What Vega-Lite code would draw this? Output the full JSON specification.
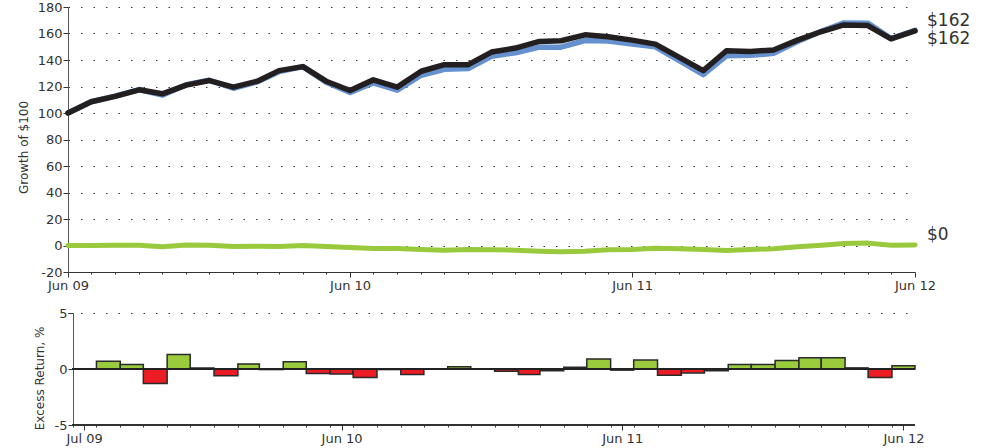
{
  "$schema": "https://vega.github.io/schema/vega-lite/v6.json",
  "background": "white",
  "padding": {"left": 17, "top": 1, "right": 5, "bottom": 2},
  "bounds": "flush",
  "spacing": 41,
  "config": {
    "view": {"stroke": null},
    "font": "DejaVu Sans",
    "axis": {
      "labelFont": "DejaVu Sans", "labelFontSize": 13, "labelColor": "#333",
      "titleFont": "DejaVu Sans", "titleFontSize": 12, "titleFontWeight": "normal", "titleColor": "#333",
      "domainColor": "#333", "tickColor": "#333", "labelFlush": false, "labelOverlap": false
    }
  },
  "datasets": {
    "growth": [
      {"date": "2009-06-01", "black": 100, "blue": 100, "diff": 0},
      {"date": "2009-07-01", "black": 108.5, "blue": 108.5, "diff": 0},
      {"date": "2009-08-01", "black": 112.5, "blue": 112.7, "diff": 0.2},
      {"date": "2009-09-01", "black": 117.5, "blue": 117.7, "diff": 0.2},
      {"date": "2009-10-01", "black": 114.5, "blue": 113.5, "diff": -1},
      {"date": "2009-11-01", "black": 121, "blue": 121.4, "diff": 0.4},
      {"date": "2009-12-01", "black": 124.5, "blue": 124.7, "diff": 0.2},
      {"date": "2010-01-01", "black": 119.5, "blue": 118.7, "diff": -0.8},
      {"date": "2010-02-01", "black": 124, "blue": 123.5, "diff": -0.5},
      {"date": "2010-03-01", "black": 132, "blue": 131.2, "diff": -0.8},
      {"date": "2010-04-01", "black": 135, "blue": 135, "diff": 0},
      {"date": "2010-05-01", "black": 124, "blue": 123.2, "diff": -0.8},
      {"date": "2010-06-01", "black": 117, "blue": 115.5, "diff": -1.5},
      {"date": "2010-07-01", "black": 125, "blue": 122.7, "diff": -2.3},
      {"date": "2010-08-01", "black": 119.5, "blue": 117.2, "diff": -2.3},
      {"date": "2010-09-01", "black": 131.5, "blue": 128.5, "diff": -3},
      {"date": "2010-10-01", "black": 136.5, "blue": 133, "diff": -3.5},
      {"date": "2010-11-01", "black": 136.5, "blue": 133.5, "diff": -3},
      {"date": "2010-12-01", "black": 146, "blue": 142.8, "diff": -3.2},
      {"date": "2011-01-01", "black": 149, "blue": 145.5, "diff": -3.5},
      {"date": "2011-02-01", "black": 154, "blue": 149.7, "diff": -4.3},
      {"date": "2011-03-01", "black": 154.5, "blue": 149.7, "diff": -4.8},
      {"date": "2011-04-01", "black": 159, "blue": 154.7, "diff": -4.3},
      {"date": "2011-05-01", "black": 157.5, "blue": 154.3, "diff": -3.2},
      {"date": "2011-06-01", "black": 155, "blue": 152, "diff": -3},
      {"date": "2011-07-01", "black": 152, "blue": 150, "diff": -2},
      {"date": "2011-08-01", "black": 142, "blue": 139.5, "diff": -2.5},
      {"date": "2011-09-01", "black": 132, "blue": 129, "diff": -3},
      {"date": "2011-10-01", "black": 147, "blue": 143.2, "diff": -3.8},
      {"date": "2011-11-01", "black": 146.5, "blue": 143.5, "diff": -3},
      {"date": "2011-12-01", "black": 147.5, "blue": 145, "diff": -2.5},
      {"date": "2012-01-01", "black": 155, "blue": 154, "diff": -1},
      {"date": "2012-02-01", "black": 161.5, "blue": 161.7, "diff": 0.2},
      {"date": "2012-03-01", "black": 166.5, "blue": 168, "diff": 1.5},
      {"date": "2012-04-01", "black": 166, "blue": 167.8, "diff": 1.8},
      {"date": "2012-05-01", "black": 156, "blue": 156.2, "diff": 0.2},
      {"date": "2012-06-01", "black": 162, "blue": 162.3, "diff": 0.3}
    ],
    "ends": [
      {"date": "2012-06-01", "value": 162.3, "label": "$162", "series": "blue"},
      {"date": "2012-06-01", "value": 162, "label": "$162", "series": "black"},
      {"date": "2012-06-01", "value": 0.3, "label": "$0", "series": "diff"}
    ],
    "excess": [
      {"start": "2009-07-01", "end": "2009-08-01", "value": 0},
      {"start": "2009-08-01", "end": "2009-09-01", "value": 0.7},
      {"start": "2009-09-01", "end": "2009-10-01", "value": 0.4},
      {"start": "2009-10-01", "end": "2009-11-01", "value": -1.3},
      {"start": "2009-11-01", "end": "2009-12-01", "value": 1.3},
      {"start": "2009-12-01", "end": "2010-01-01", "value": 0.1},
      {"start": "2010-01-01", "end": "2010-02-01", "value": -0.6},
      {"start": "2010-02-01", "end": "2010-03-01", "value": 0.45},
      {"start": "2010-03-01", "end": "2010-04-01", "value": -0.05},
      {"start": "2010-04-01", "end": "2010-05-01", "value": 0.65},
      {"start": "2010-05-01", "end": "2010-06-01", "value": -0.4},
      {"start": "2010-06-01", "end": "2010-07-01", "value": -0.45},
      {"start": "2010-07-01", "end": "2010-08-01", "value": -0.75},
      {"start": "2010-08-01", "end": "2010-09-01", "value": -0.05},
      {"start": "2010-09-01", "end": "2010-10-01", "value": -0.5},
      {"start": "2010-10-01", "end": "2010-11-01", "value": 0},
      {"start": "2010-11-01", "end": "2010-12-01", "value": 0.2},
      {"start": "2010-12-01", "end": "2011-01-01", "value": 0.02},
      {"start": "2011-01-01", "end": "2011-02-01", "value": -0.2},
      {"start": "2011-02-01", "end": "2011-03-01", "value": -0.5},
      {"start": "2011-03-01", "end": "2011-04-01", "value": -0.15},
      {"start": "2011-04-01", "end": "2011-05-01", "value": 0.15},
      {"start": "2011-05-01", "end": "2011-06-01", "value": 0.9},
      {"start": "2011-06-01", "end": "2011-07-01", "value": -0.1},
      {"start": "2011-07-01", "end": "2011-08-01", "value": 0.8},
      {"start": "2011-08-01", "end": "2011-09-01", "value": -0.55},
      {"start": "2011-09-01", "end": "2011-10-01", "value": -0.35},
      {"start": "2011-10-01", "end": "2011-11-01", "value": -0.15},
      {"start": "2011-11-01", "end": "2011-12-01", "value": 0.4},
      {"start": "2011-12-01", "end": "2012-01-01", "value": 0.4},
      {"start": "2012-01-01", "end": "2012-02-01", "value": 0.75},
      {"start": "2012-02-01", "end": "2012-03-01", "value": 1.0},
      {"start": "2012-03-01", "end": "2012-04-01", "value": 1.0},
      {"start": "2012-04-01", "end": "2012-05-01", "value": 0.1},
      {"start": "2012-05-01", "end": "2012-06-01", "value": -0.75},
      {"start": "2012-06-01", "end": "2012-07-01", "value": 0.3}
    ]
  },
  "vconcat": [
    {
      "width": 847,
      "height": 265,
      "layer": [
        {
          "data": {"name": "growth"},
          "mark": {"type": "line", "color": "#6591cf", "strokeWidth": 5.5, "strokeCap": "round", "strokeJoin": "round"},
          "encoding": {
            "x": {
              "field": "date", "type": "temporal",
              "scale": {"type": "utc", "domain": [{"year": 2009, "month": 6, "date": 1, "utc": true}, {"year": 2012, "month": 6, "date": 1, "utc": true}]},
              "axis": {
                "title": null,
                "tickCount": {"interval": "month", "step": 1},
                "labelExpr": "utcmonth(datum.value) == 5 ? utcFormat(datum.value, '%b %y') : ''",
                "tickSize": {"condition": {"test": "utcmonth(datum.value) == 5", "value": 5}, "value": 2},
                "labelOverlap": false,
                "labelPadding": 2,
                "grid": false
              }
            },
            "y": {
              "field": "blue", "type": "quantitative",
              "scale": {"domain": [-20, 180], "nice": false, "zero": false},
              "axis": {
                "title": "Growth of $100",
                "values": [-20, 0, 20, 40, 60, 80, 100, 120, 140, 160, 180],
                "tickCount": 50,
                "labelExpr": "datum.value < 0 ? '-' + abs(datum.value) : '' + datum.value",
                "labelOverlap": false,
                "grid": true, "gridDash": [1.5, 11], "gridColor": "#333", "gridWidth": 1,
                "tickSize": 5, "labelPadding": 1, "titlePadding": 7, "titleY": 140,
                "domainColor": "#555"
              }
            }
          }
        },
        {
          "mark": {"type": "rule", "color": "#000", "strokeWidth": 1},
          "encoding": {"y": {"datum": 100, "type": "quantitative"}}
        },
        {
          "data": {"name": "growth"},
          "mark": {"type": "line", "color": "#231f20", "strokeWidth": 5.5, "strokeCap": "round", "strokeJoin": "round"},
          "encoding": {
            "x": {"field": "date", "type": "temporal"},
            "y": {"field": "black", "type": "quantitative"}
          }
        },
        {
          "data": {"name": "growth"},
          "mark": {"type": "line", "color": "#99c93c", "strokeWidth": 5, "strokeCap": "round", "strokeJoin": "round"},
          "encoding": {
            "x": {"field": "date", "type": "temporal"},
            "y": {"field": "diff", "type": "quantitative"}
          }
        },
        {
          "data": {"name": "ends"},
          "transform": [{"filter": "datum.series == 'blue'"}],
          "mark": {"type": "text", "align": "left", "baseline": "middle", "dx": 12, "dy": -9.5, "fontSize": 17, "color": "#333", "font": "DejaVu Sans"},
          "encoding": {
            "x": {"field": "date", "type": "temporal"},
            "y": {"field": "value", "type": "quantitative"},
            "text": {"field": "label"}
          }
        },
        {
          "data": {"name": "ends"},
          "transform": [{"filter": "datum.series == 'black'"}],
          "mark": {"type": "text", "align": "left", "baseline": "middle", "dx": 12, "dy": 8.5, "fontSize": 17, "color": "#333", "font": "DejaVu Sans"},
          "encoding": {
            "x": {"field": "date", "type": "temporal"},
            "y": {"field": "value", "type": "quantitative"},
            "text": {"field": "label"}
          }
        },
        {
          "data": {"name": "ends"},
          "transform": [{"filter": "datum.series == 'diff'"}],
          "mark": {"type": "text", "align": "left", "baseline": "middle", "dx": 12, "dy": -10, "fontSize": 17, "color": "#333", "font": "DejaVu Sans"},
          "encoding": {
            "x": {"field": "date", "type": "temporal"},
            "y": {"field": "value", "type": "quantitative"},
            "text": {"field": "label"}
          }
        }
      ]
    },
    {
      "width": 847,
      "height": 112,
      "data": {"name": "excess"},
      "layer": [
        {
          "mark": {"type": "rect", "stroke": "#2a2a2a", "strokeWidth": 1.5},
          "encoding": {
            "x": {
              "field": "start", "type": "temporal",
              "scale": {"type": "utc", "domain": [{"year": 2009, "month": 6, "date": 25, "utc": true}, {"year": 2012, "month": 7, "date": 1, "utc": true}]},
              "axis": {
                "title": null,
                "domain": false,
                "tickCount": 200,
                "values": [
                  {"year": 2009, "month": 7, "date": 1, "utc": true},
                  {"year": 2009, "month": 7, "date": 16, "utc": true},
                  {"year": 2009, "month": 8, "date": 1, "utc": true},
                  {"year": 2009, "month": 9, "date": 1, "utc": true},
                  {"year": 2009, "month": 10, "date": 1, "utc": true},
                  {"year": 2009, "month": 11, "date": 1, "utc": true},
                  {"year": 2009, "month": 12, "date": 1, "utc": true},
                  {"year": 2010, "month": 1, "date": 1, "utc": true},
                  {"year": 2010, "month": 2, "date": 1, "utc": true},
                  {"year": 2010, "month": 3, "date": 1, "utc": true},
                  {"year": 2010, "month": 4, "date": 1, "utc": true},
                  {"year": 2010, "month": 5, "date": 1, "utc": true},
                  {"year": 2010, "month": 6, "date": 1, "utc": true},
                  {"year": 2010, "month": 6, "date": 16, "utc": true},
                  {"year": 2010, "month": 7, "date": 1, "utc": true},
                  {"year": 2010, "month": 8, "date": 1, "utc": true},
                  {"year": 2010, "month": 9, "date": 1, "utc": true},
                  {"year": 2010, "month": 10, "date": 1, "utc": true},
                  {"year": 2010, "month": 11, "date": 1, "utc": true},
                  {"year": 2010, "month": 12, "date": 1, "utc": true},
                  {"year": 2011, "month": 1, "date": 1, "utc": true},
                  {"year": 2011, "month": 2, "date": 1, "utc": true},
                  {"year": 2011, "month": 3, "date": 1, "utc": true},
                  {"year": 2011, "month": 4, "date": 1, "utc": true},
                  {"year": 2011, "month": 5, "date": 1, "utc": true},
                  {"year": 2011, "month": 6, "date": 1, "utc": true},
                  {"year": 2011, "month": 6, "date": 16, "utc": true},
                  {"year": 2011, "month": 7, "date": 1, "utc": true},
                  {"year": 2011, "month": 8, "date": 1, "utc": true},
                  {"year": 2011, "month": 9, "date": 1, "utc": true},
                  {"year": 2011, "month": 10, "date": 1, "utc": true},
                  {"year": 2011, "month": 11, "date": 1, "utc": true},
                  {"year": 2011, "month": 12, "date": 1, "utc": true},
                  {"year": 2012, "month": 1, "date": 1, "utc": true},
                  {"year": 2012, "month": 2, "date": 1, "utc": true},
                  {"year": 2012, "month": 3, "date": 1, "utc": true},
                  {"year": 2012, "month": 4, "date": 1, "utc": true},
                  {"year": 2012, "month": 5, "date": 1, "utc": true},
                  {"year": 2012, "month": 6, "date": 1, "utc": true},
                  {"year": 2012, "month": 6, "date": 16, "utc": true}
                ],
                "labelExpr": "utcdate(datum.value) == 16 ? utcFormat(datum.value, '%b %y') : ''",
                "tickSize": {"condition": {"test": "utcdate(datum.value) == 16", "value": 5}, "value": 2},
                "labelOverlap": false,
                "labelPadding": 2,
                "grid": false
              }
            },
            "x2": {"field": "end"},
            "y": {
              "field": "value", "type": "quantitative",
              "scale": {"domain": [-5, 5], "nice": false},
              "axis": {
                "title": "Excess Return, %",
                "values": [-5, 0, 5],
                "tickCount": 20,
                "labelExpr": "datum.value < 0 ? '-' + abs(datum.value) : '' + datum.value",
                "labelOverlap": false,
                "offset": -5,
                "grid": true, "gridDash": [1.5, 11], "gridColor": "#333",
                "gridOpacity": {"condition": {"test": "datum.value == 5", "value": 1}, "value": 0},
                "tickSize": 5, "labelPadding": 1, "titlePadding": 8, "titleY": 65,
                "domainColor": "#555"
              }
            },
            "y2": {"datum": 0},
            "fill": {"condition": {"test": "datum.value >= 0", "value": "#9acb3c"}, "value": "#ec1c24"}
          }
        },
        {
          "mark": {"type": "rule", "color": "#222", "strokeWidth": 1.5},
          "encoding": {
            "y": {"datum": 0, "type": "quantitative"},
            "x": {"datum": {"year": 2009, "month": 7, "date": 1, "utc": true}, "type": "temporal"},
            "x2": {"datum": {"year": 2012, "month": 7, "date": 1, "utc": true}}
          }
        },
        {
          "mark": {"type": "rule", "color": "#333", "strokeWidth": 1},
          "encoding": {
            "y": {"datum": -5, "type": "quantitative"},
            "x": {"datum": {"year": 2009, "month": 7, "date": 1, "utc": true}, "type": "temporal"},
            "x2": {"datum": {"year": 2012, "month": 7, "date": 1, "utc": true}}
          }
        }
      ]
    }
  ]
}
